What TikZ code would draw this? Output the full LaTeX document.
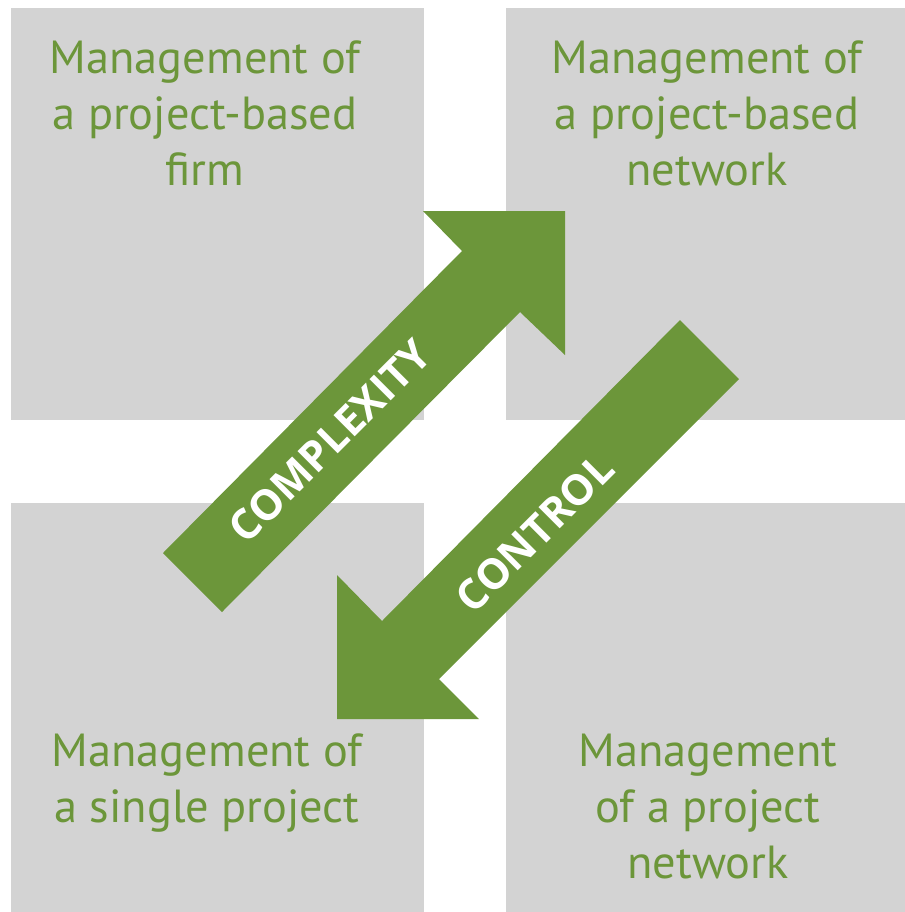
\documentclass[tikz,border=0pt]{standalone}
\usepackage{fontspec}
\setmainfont{PT Sans}
\newfontfamily\tagfont{Open Sans}
\definecolor{leafGreen}{RGB}{108,150,58}
\definecolor{paneGray}{RGB}{211,211,211}
\tikzset{
  pane/.style={fill=paneGray, inner sep=0pt, minimum width=206.5pt},
  paneText/.style={text=leafGreen, align=center, anchor=base, inner sep=0pt,
    font=\fontsize{23.2}{28}\selectfont},
  band/.style={fill=leafGreen},
  tag/.style={text=white, rotate=45, inner sep=0pt,
    font=\tagfont\bfseries\fontsize{21}{24}\selectfont}
}

\begin{document}
\begin{tikzpicture}[x=0.5pt, y=-0.5pt]
\useasboundingbox (0,0) rectangle (905,912);
% four panes
\node[pane, minimum height=206pt] (firm) at (217.5,214) {};
\node[pane, minimum height=206pt, minimum width=199.5pt] (net) at (705.5,214) {};
\node[pane, minimum height=204.5pt] (single) at (217.5,707.5) {};
\node[pane, minimum height=204.5pt, minimum width=199.5pt] (pnet) at (705.5,707.5) {};
% labels, placed by the baseline of their last line
\node[paneText] (firmtxt) at (205,185) {Management of\\a project-based\\firm};
\node[paneText] (nettxt) at (707,185) {Management of\\a project-based\\network};
\node[paneText] (singletxt) at (207,822) {Management of\\a single project};
\node[paneText] (pnettxt) at (708,878) {Management\\of a project\\network};
% the two big arrows
\fill[band] (163,553) -- (222,612) -- (520,312) -- (565,355) -- (565,211)
  -- (423,211) -- (462,251) -- cycle;
\fill[band] (739,379) -- (680,320) -- (382,621) -- (337,575) -- (337,719)
  -- (479,719) -- (439,679) -- cycle;
\node[tag] (complexity) at (330,441) {COMPLEXITY};
\node[tag] (control) at (535,533) {CONTROL};
\end{tikzpicture}
\end{document}
